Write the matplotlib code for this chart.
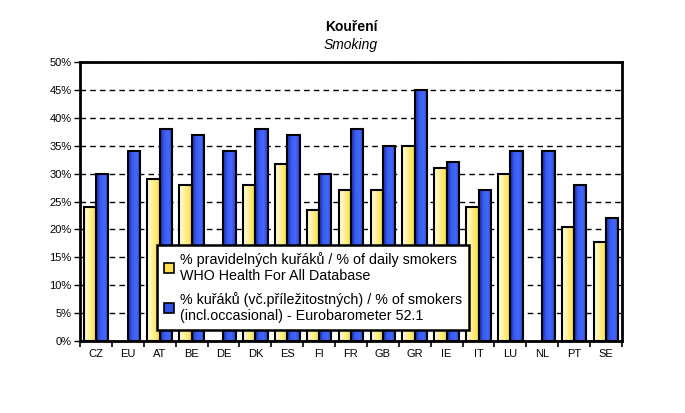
import numpy as np
import matplotlib
matplotlib.use("Agg")
import matplotlib.pyplot as plt
from matplotlib.colors import LinearSegmentedColormap
from matplotlib.patches import Patch

plt.rcParams['font.family'] = ['Liberation Sans', 'DejaVu Sans']

categories = ["CZ", "EU", "AT", "BE", "DE", "DK", "ES", "FI", "FR", "GB", "GR", "IE", "IT", "LU", "NL", "PT", "SE"]
daily = [24.0, np.nan, 29.0, 28.0, np.nan, 28.0, 31.7, 23.5, 27.0, 27.0, 35.0, 31.0, 24.0, 30.0, np.nan, 20.5, 17.8]
smokers = [30.0, 34.0, 38.0, 37.0, 34.0, 38.0, 37.0, 30.0, 38.0, 35.0, 45.0, 32.0, 27.0, 34.0, 34.0, 28.0, 22.0]
yticks = [0, 5, 10, 15, 20, 25, 30, 35, 40, 45, 50]
label_daily = "% pravidelných kuřáků / % of daily smokers\nWHO Health For All Database"
label_smokers = "% kuřáků (vč.příležitostných) / % of smokers\n(incl.occasional) - Eurobarometer 52.1"

fig = plt.figure(figsize=(6.85, 4.13), dpi=100)
ax = fig.add_axes([80/685, 1-341/413, 542/685, 279/413])

cmap_y = LinearSegmentedColormap.from_list("y", ["#FFFFE8", "#FFF08A", "#FFD940"])
cmap_b = LinearSegmentedColormap.from_list("b", ["#1A2A9A", "#3A5CF8", "#4468FF", "#2A40C8"])
grad = np.linspace(0, 1, 64).reshape(1, -1)

x = np.arange(len(categories))
w = 0.385
for xi, v in zip(x - w/2, daily):
    if not np.isnan(v):
        ax.imshow(grad, cmap=cmap_y, extent=[xi - w/2, xi + w/2, 0, v], aspect='auto', zorder=2, interpolation='bicubic')
for xi, v in zip(x + w/2, smokers):
    ax.imshow(grad, cmap=cmap_b, extent=[xi - w/2, xi + w/2, 0, v], aspect='auto', zorder=2, interpolation='bicubic')
ax.bar(x - w/2, daily, w, facecolor='none', edgecolor='black', linewidth=1.5, zorder=3)
ax.bar(x + w/2, smokers, w, facecolor='none', edgecolor='black', linewidth=1.5, zorder=3)

ax.set_xlim(-0.5, len(categories) - 0.5)
ax.set_ylim(0, 50)
ax.set_yticks(yticks)
ax.set_yticklabels([f"{t}%" for t in yticks], fontsize=8)
ax.yaxis.grid(True, linestyle=(0, (4, 3)), color='black', linewidth=1.0, zorder=1)
ax.set_axisbelow(True)

ax.set_xticks(x)
ax.set_xticklabels(categories, fontsize=8)
ax.tick_params(axis='x', length=0, pad=6)
ax.set_xticks(np.arange(len(categories) + 1) - 0.5, minor=True)
ax.tick_params(axis='x', which='minor', length=4, width=1.2, direction='out')
ax.tick_params(axis='y', length=4, width=1.0, direction='out', pad=2)
for s in ax.spines.values():
    s.set_linewidth(2)
    s.set_color('black')

handles = [Patch(facecolor='#FFE050', edgecolor='black', linewidth=1.2),
           Patch(facecolor='#3050E8', edgecolor='black', linewidth=1.2)]
leg = ax.legend(handles, [label_daily, label_smokers], loc='lower left', bbox_to_anchor=(0.142, 0.039),
                fontsize=10.3, frameon=True, fancybox=False, framealpha=1, handlelength=0.7, handleheight=0.7,
                handletextpad=0.4, borderpad=0.5, labelspacing=0.6, borderaxespad=0)
leg.get_frame().set_edgecolor('black')
leg.get_frame().set_linewidth(1.8)
leg.get_frame().set_facecolor('white')
leg.set_zorder(5)

cx = (80 + 622) / 2 / 685
fig.text(cx, 1 - 27/413, "Kouření", ha='center', va='center', fontsize=10, fontweight='bold')
fig.text(cx, 1 - 45/413, "Smoking", ha='center', va='center', fontsize=10, fontstyle='italic')

fig.savefig("out.png", dpi=100, facecolor='white')
